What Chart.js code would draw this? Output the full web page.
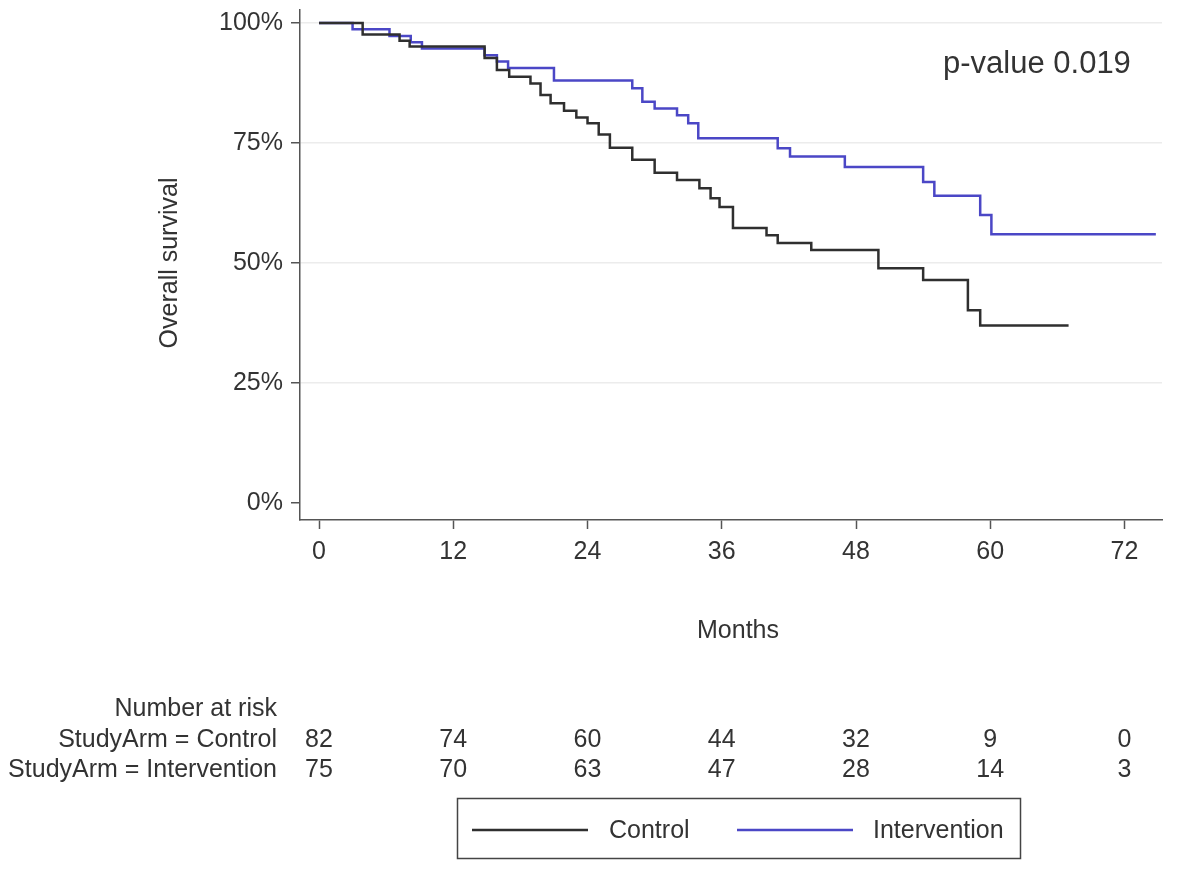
<!DOCTYPE html>
<html>
<head>
<meta charset="utf-8">
<title>Overall survival</title>
<script src="https://cdn.jsdelivr.net/npm/chart.js@4/dist/chart.umd.min.js"></script>
<style>
  html, body { margin: 0; padding: 0; background: #fff; }
  canvas { display: block; }
</style>
</head>
<body>
<canvas id="chart" width="1200" height="878"></canvas>
<script>
// tick values
const monthTicks = [0, 12, 24, 36, 48, 60, 72];
const survivalTicks = [0, 25, 50, 75, 100];

// Kaplan-Meier steps (months, % surviving after the step)
const controlTimes = [0, 3.9, 7.2, 8.1, 14.8, 15.9, 17.0, 18.9, 19.8, 20.7, 21.9, 23.0, 24.0, 25.0, 26.0, 28.0, 30.0, 32.0, 34.0, 35.0, 35.8, 37.0, 40.0, 41.0, 44.0, 50.0, 54.0, 58.0, 59.1, 67.0];
const controlSurv = [100, 97.6, 96.3, 95.1, 92.7, 90.2, 88.8, 87.4, 85.0, 83.3, 81.7, 80.3, 79.1, 76.8, 74.0, 71.5, 68.8, 67.3, 65.6, 63.5, 61.7, 57.3, 55.8, 54.2, 52.7, 48.9, 46.5, 40.2, 37.0, 37.0];

const interventionTimes = [0, 3.0, 6.3, 8.2, 9.2, 14.8, 15.9, 16.9, 21.0, 28.0, 28.9, 30.0, 32.0, 33.0, 33.9, 41.0, 42.1, 47.0, 54.0, 55.0, 59.1, 60.1, 74.8];
const interventionSurv = [100, 98.7, 97.3, 96.0, 94.7, 93.3, 92.0, 90.6, 88.0, 86.4, 83.6, 82.2, 80.8, 79.1, 76.0, 73.9, 72.2, 70.0, 66.9, 64.0, 60.0, 56.0, 56.0];

// number at risk table
const riskLabels = ['StudyArm = Control', 'StudyArm = Intervention'];
const riskControl = [82, 74, 60, 44, 32, 9, 0];
const riskIntervention = [75, 70, 63, 47, 28, 14, 3];

const seriesNames = ['Control', 'Intervention'];
const seriesColors = ['#2f2f2f', '#4b47c6'];
const pValueText = 'p-value 0.019';

const FONT = '"Liberation Sans", Arial, Helvetica, sans-serif';
const TEXT = '#333333';

function toPoints(times, surv) {
    return times.map((t, i) => ({ x: t, y: surv[i] }));
}

// draws titles, p-value, risk table and the boxed legend
const extrasPlugin = {
    id: 'extras',
    afterDraw(chart) {
        const c = chart.ctx;
        const xs = chart.scales.x;
        c.save();
        c.fillStyle = TEXT;
        c.font = '25px ' + FONT;
        c.textBaseline = 'middle';

        // axis titles
        c.textAlign = 'center';
        c.fillText('Months', 738, 631);
        c.save();
        c.translate(170, 263);
        c.rotate(-Math.PI / 2);
        c.fillText('Overall survival', 0, 0);
        c.restore();

        // p-value
        c.font = '31px ' + FONT;
        c.textAlign = 'left';
        c.fillText(pValueText, 943, 64);

        // risk table
        c.font = '25px ' + FONT;
        c.textAlign = 'right';
        c.fillText('Number at risk', 277, 709);
        c.fillText(riskLabels[0], 277, 740);
        c.fillText(riskLabels[1], 277, 770);
        c.textAlign = 'center';
        monthTicks.forEach((m, i) => {
            const px = xs.getPixelForValue(m);
            c.fillText(String(riskControl[i]), px, 740);
            c.fillText(String(riskIntervention[i]), px, 770);
        });

        // legend box
        c.strokeStyle = '#444';
        c.lineWidth = 1.5;
        c.strokeRect(457.5, 798.5, 563, 60);
        c.textAlign = 'left';
        const items = [[472, 588, 609], [737, 853, 873]];
        items.forEach((it, i) => {
            c.strokeStyle = seriesColors[i];
            c.lineWidth = 2.5;
            c.beginPath();
            c.moveTo(it[0], 830);
            c.lineTo(it[1], 830);
            c.stroke();
            c.fillStyle = TEXT;
            c.fillText(seriesNames[i], it[2], 831);
        });
        c.restore();
    }
};

document.addEventListener('DOMContentLoaded', function () {
    const ctx = document.getElementById('chart').getContext('2d');

    new Chart(ctx, {
        type: 'line',
        data: {
            datasets: [{
                label: seriesNames[0],
                data: toPoints(controlTimes, controlSurv),
                borderColor: seriesColors[0],
                borderWidth: 2.5,
                stepped: true,
                pointRadius: 0,
                fill: false,
            }, {
                label: seriesNames[1],
                data: toPoints(interventionTimes, interventionSurv),
                borderColor: seriesColors[1],
                borderWidth: 2.5,
                stepped: true,
                pointRadius: 0,
                fill: false,
            }],
        },
        options: {
            responsive: false,
            animation: false,
            layout: { padding: { top: 10, right: 38, left: 0, bottom: 0 } },
            plugins: {
                legend: { display: false },
                tooltip: { enabled: false },
            },
            scales: {
                x: {
                    type: 'linear',
                    min: -1.7,
                    max: 75.35,
                    afterBuildTicks: scale => { scale.ticks = monthTicks.map(v => ({ value: v })); },
                    afterFit: scale => {
                        scale.height = 358;
                        scale.paddingLeft = 0;
                        scale.paddingRight = 0;
                    },
                    border: { display: true, color: '#555', width: 1.5 },
                    grid: { drawOnChartArea: false, drawTicks: true, tickLength: 9, tickColor: '#555', tickWidth: 1.5 },
                    ticks: {
                        color: TEXT,
                        font: { family: FONT, size: 25 },
                        padding: 8,
                        maxRotation: 0,
                        callback: v => v,
                    },
                },
                y: {
                    type: 'linear',
                    min: -3.5,
                    max: 102.7,
                    afterBuildTicks: scale => { scale.ticks = survivalTicks.map(v => ({ value: v })); },
                    afterFit: scale => {
                        scale.width = 300;
                        scale.paddingTop = 0;
                        scale.paddingBottom = 0;
                    },
                    border: { display: true, color: '#555', width: 1.5 },
                    grid: {
                        color: c => (c.tick && c.tick.value === 0 ? 'rgba(0,0,0,0)' : '#ececec'),
                        lineWidth: 1.5,
                        drawTicks: true,
                        tickLength: 9,
                        tickColor: '#555',
                        tickWidth: 1.5,
                    },
                    ticks: {
                        color: TEXT,
                        font: { family: FONT, size: 25 },
                        padding: 8,
                        callback: v => v + '%',
                    },
                },
            },
        },
        plugins: [extrasPlugin],
    });
});
</script>
</body>
</html>
